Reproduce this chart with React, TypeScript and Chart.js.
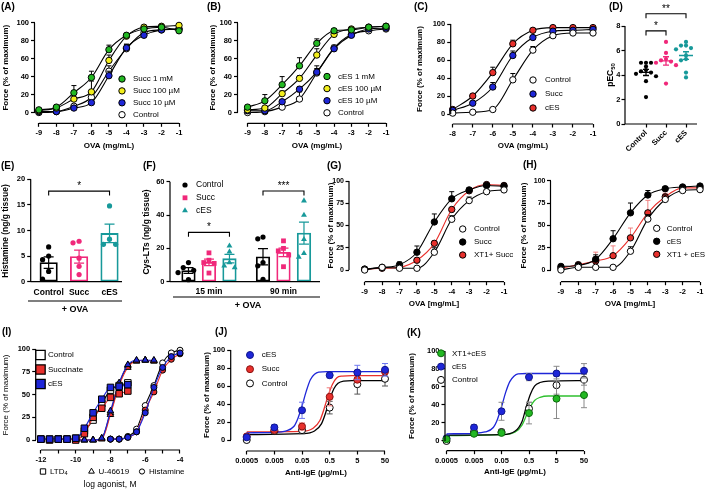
import React, { useEffect, useRef } from "react";
import { Chart, registerables } from "chart.js";

Chart.register(...registerables);

// ===================== DATA =====================
// (A) OVA dose-response with succinate pre-treatment (log mg/mL)
const OVA_9 = [-9, -8, -7, -6, -5, -4, -3, -2, -1];
const A_SUCC_1MM = [3, 6, 22, 39, 70, 86, 93, 95, 91];
const A_SUCC_1MM_SEM = [1, 1, 8, 7, 5, 2, 1, 1, 1];
const A_SUCC_100UM = [2, 5, 15, 23, 58, 85, 95, 96, 97];
const A_SUCC_100UM_SEM = [1, 1, 2, 12, 6, 2, 1, 1, 1];
const A_SUCC_10UM = [1, 1, 5, 11, 41, 72, 86, 92, 93];
const A_SUCC_10UM_SEM = [1, 1, 1, 2, 5, 4, 2, 1, 1];
const A_CONTROL = [0, 1, 7, 17, 46, 71, 89, 92, 93];
const A_CONTROL_SEM = [1, 1, 2, 3, 6, 5, 2, 1, 1];

// (B) cES
const B_CES_1MM = [6, 13, 31, 52, 77, 91, 92, 95, 96];
const B_CES_1MM_SEM = [1, 7, 9, 9, 5, 2, 1, 1, 1];
const B_CES_100UM = [3, 5, 21, 38, 64, 87, 93, 95, 96];
const B_CES_100UM_SEM = [1, 1, 3, 3, 7, 2, 1, 1, 1];
const B_CES_10UM = [2, 2, 12, 26, 45, 71, 86, 93, 94];
const B_CES_10UM_SEM = [1, 1, 2, 3, 4, 2, 2, 1, 1];
const B_CONTROL = [0, 1, 6, 15, 44, 72, 87, 91, 93];
const B_CONTROL_SEM = [1, 1, 2, 8, 8, 3, 3, 1, 1];

// (C)
const OVA_8 = [-8, -7, -6, -5, -4, -3, -2, -1];
const C_CONTROL = [1, 2, 5, 38, 71, 87, 90, 90];
const C_CONTROL_SEM = [1, 1, 1, 7, 4, 2, 1, 1];
const C_SUCC = [4, 12, 30, 65, 85, 92, 93, 94];
const C_SUCC_SEM = [1, 2, 5, 5, 2, 1, 1, 1];
const C_CES = [5, 20, 46, 78, 93, 96, 96, 96];
const C_CES_SEM = [1, 2, 6, 4, 2, 1, 1, 1];

// (D) pEC50
const D_GROUPS = ["Control", "Succ", "cES"];
const D_CONTROL = [5.0, 5.0, 5.0, 4.7, 4.4, 4.3, 4.2, 4.1, 3.9, 3.5, 2.2];
const D_SUCC = [6.7, 5.8, 5.3, 5.2, 5.1, 5.0, 4.8, 3.3];
const D_CES = [6.7, 6.4, 6.4, 6.2, 6.1, 5.6, 5.3, 5.2, 4.2, 3.8];

// (E) Histamine (ng/g tissue)
const E_GROUPS = ["Control", "Succ", "cES"];
const E_CONTROL = [6.8, 5.0, 4.3, 2.0, 0.5];
const E_SUCC = [7.9, 7.6, 4.6, 3.0, 1.4];
const E_CES = [14.8, 8.3, 7.3, 7.3];

// (F) Cys-LTs (ng/g tissue)
const F_TIMES = ["15 min", "90 min"];
const F_CONTROL_15 = [11.5, 8.5, 6.8, 5.5, 1.2];
const F_SUCC_15 = [17.3, 12.9, 11.5, 11, 5.2];
const F_CES_15 = [21.5, 18, 11.5, 9.5, 8.5];
const F_CONTROL_90 = [26.8, 25.7, 11.5, 9.5, 1.4];
const F_SUCC_90 = [24.5, 20, 18.5, 16, 9];
const F_CES_90 = [48.6, 40, 25.4, 17, 14.8];

// (G)
const G_CONTROL = [0, 3, 2, 2, 20, 57, 78, 88, 90];
const G_CONTROL_SEM = [1, 1, 1, 1, 5, 4, 4, 2, 1];
const G_SUCC = [1, 3, 6, 20, 54, 80, 90, 95, 94];
const G_SUCC_SEM = [1, 1, 3, 7, 9, 8, 2, 1, 1];
const G_XT1_SUCC = [1, 2, 3, 11, 30, 68, 89, 96, 95];
const G_XT1_SUCC_SEM = [0, 0, 1, 2, 3, 2, 1, 1, 1];

// (H)
const H_CONTROL = [0, 3, 3, 3, 21, 57, 79, 89, 90];
const H_CONTROL_SEM = [1, 1, 1, 1, 5, 5, 5, 2, 1];
const H_CES = [4, 5, 12, 35, 64, 84, 91, 93, 94];
const H_CES_SEM = [1, 1, 5, 9, 11, 5, 2, 1, 1];
const H_XT1_CES = [2, 6, 10, 16, 36, 64, 82, 92, 92];
const H_XT1_CES_SEM = [1, 2, 10, 11, 11, 14, 4, 1, 1];

// (I) log agonist, M
const I_LTD4_X = [-12, -11.5, -11, -10.5, -10, -9.5, -9, -8.5, -8, -7.5, -7];
const I_LTD4_CONTROL = [1, 1, 1, 1, 2, 10, 22, 40, 55, 60, 63];
const I_LTD4_SUCC = [1, 0, 1, 1, 0, 7, 25, 35, 47, 51, 54];
const I_LTD4_CES = [1, 1, 1, 1, 2, 13, 30, 45, 58, 59, 61];
const I_U46619_X = [-10, -9.5, -9, -8.5, -8, -7.5, -7, -6.5, -6, -5.5];
const I_U46619_CONTROL = [0, 0, 0, 2, 30, 62, 82, 87, 88, 87];
const I_U46619_SUCC = [0, 0, 0, 1, 28, 60, 80, 87, 88, 87];
const I_U46619_CES = [0, 0, 0, 2, 32, 63, 83, 88, 88, 88];
const I_HIST_X = [-8, -7.5, -7, -6.5, -6, -5.5, -5, -4.5, -4];
const I_HIST_CONTROL = [1, 1, 4, 12, 38, 60, 85, 96, 99];
const I_HIST_SUCC = [1, 1, 3, 9, 33, 53, 77, 89, 95];
const I_HIST_CES = [1, 1, 3, 9, 30, 58, 80, 92, 96];

// (J) Anti-IgE (µg/mL)
const IGE_CONC = [0.0005, 0.005, 0.05, 0.5, 5, 50];
const J_CES = [3, 14, 33, 72, 75, 78];
const J_CES_SEM = [2, 3, 9, 3, 8, 7];
const J_SUCC = [4, 11, 15, 48, 67, 76];
const J_SUCC_SEM = [1, 1, 4, 10, 3, 3];
const J_CONTROL = [0, 10, 11, 36, 62, 68];
const J_CONTROL_SEM = [1, 3, 4, 7, 11, 8];
// fitted curves: [log10 conc, %]
const J_CES_CURVE = [[-3.3, 8], [-2.3, 8.5], [-1.9, 10], [-1.6, 15], [-1.45, 24], [-1.3, 38], [-1.15, 54], [-1.0, 67], [-0.85, 73], [-0.7, 75.5], [-0.4, 76], [1.7, 76]];
const J_SUCC_CURVE = [[-3.3, 9], [-1.3, 9.5], [-0.9, 13], [-0.65, 22], [-0.5, 35], [-0.35, 50], [-0.2, 62], [-0.05, 69], [0.15, 71], [0.5, 71.5], [1.7, 71.5]];
const J_CONTROL_CURVE = [[-3.3, 6], [-1.3, 7], [-0.85, 10], [-0.6, 18], [-0.45, 30], [-0.3, 45], [-0.15, 57], [0, 63], [0.2, 65.5], [0.5, 66], [1.7, 66]];

// (K)
const K_XT1_CES = [2, 8, 9, 31, 47, 51];
const K_XT1_CES_SEM = [1, 2, 2, 12, 22, 14];
const K_CES = [3, 15, 33, 71, 75, 78];
const K_CES_SEM = [2, 3, 10, 4, 8, 8];
const K_CONTROL = [0, 10, 10, 36, 62, 68];
const K_CONTROL_SEM = [1, 2, 3, 7, 10, 6];
const K_CES_CURVE = [[-3.3, 8], [-2.3, 8.5], [-1.9, 10], [-1.6, 15], [-1.45, 24], [-1.3, 38], [-1.15, 54], [-1.0, 66], [-0.85, 72], [-0.7, 74.5], [-0.4, 75], [1.7, 75]];
const K_CONTROL_CURVE = [[-3.3, 6.5], [-1.3, 7], [-0.8, 11], [-0.55, 22], [-0.4, 38], [-0.25, 52], [-0.1, 61], [0.1, 65], [0.4, 66.5], [1.7, 67]];
const K_XT1_CES_CURVE = [[-3.3, 6], [-1.3, 7], [-0.8, 10], [-0.55, 18], [-0.4, 28], [-0.25, 38], [-0.1, 45], [0.1, 48.5], [0.4, 50], [1.7, 50]];

// ===================== STYLE =====================
const W = 709;
const H = 490;
const FONT = "'Liberation Sans', Arial, Helvetica, sans-serif";
const BLACK = "#000000";
const WHITE = "#ffffff";
const GREEN = "#22b822";
const YELLOW = "#f2ee1c";
const BLUE = "#1e26d8";
const RED = "#e8302c";
const PINK = "#f0287a";
const TEAL = "#17999a";
const GREY = "#8a8a8a";

Chart.defaults.font.family = FONT;

// ===================== HELPERS =====================
type Area = { l: number; t: number; r: number; b: number };
type Seg = { t: string; sub?: boolean };
type Txt = { t: string | Seg[]; x: number; y: number; size?: number; bold?: boolean; rot?: number; align?: "left" | "center" | "right" };
type Mark = { style: string; x: number; y: number; r: number; fill: string; stroke?: string; lw?: number };

const mean = (a: number[]) => a.reduce((s, v) => s + v, 0) / a.length;
const sem = (a: number[]) => {
  const m = mean(a);
  return Math.sqrt(a.reduce((s, v) => s + (v - m) * (v - m), 0) / (a.length - 1) / a.length);
};

function swarm(vals: number[], delta: number, step: number): number[] {
  const idx = vals.map((_, i) => i).sort((a, b) => vals[b] - vals[a]);
  const out = new Array(vals.length).fill(0);
  const pat = [0, -1, 1, -2, 2, -3, 3];
  let k = 0;
  let prev = Infinity;
  for (const i of idx) {
    k = prev - vals[i] <= delta ? k + 1 : 0;
    out[i] = pat[k % pat.length] * step;
    prev = vals[i];
  }
  return out;
}

function dose(label: string, xs: number[], ys: number[], err: number[] | null, fill: string, o: any = {}) {
  return {
    type: "line",
    label,
    data: xs.map((x, i) => ({ x, y: ys[i] })),
    errUp: err,
    errDown: o.down ? err : null,
    errColor: o.errColor ?? BLACK,
    errCap: o.cap ?? 2.5,
    showLine: o.line !== false,
    borderColor: o.lineColor ?? BLACK,
    borderWidth: o.lw ?? 1.1,
    cubicInterpolationMode: "monotone",
    pointStyle: o.style ?? "circle",
    pointRadius: o.r ?? 3.2,
    pointBackgroundColor: fill,
    pointBorderColor: o.stroke ?? BLACK,
    pointBorderWidth: o.bw ?? 1,
    clip: false,
    fill: false,
  };
}

function curve(label: string, xy: number[][], color: string) {
  return {
    type: "line",
    label,
    data: xy.map((p) => ({ x: p[0], y: p[1] })),
    borderColor: color,
    borderWidth: 1.3,
    cubicInterpolationMode: "monotone",
    pointRadius: 0,
    clip: false,
    fill: false,
  };
}

function dots(label: string, xs: number[], ys: number[], fill: string, style = "circle", r = 2.5) {
  return {
    type: "scatter",
    label,
    data: xs.map((x, i) => ({ x, y: ys[i] })),
    pointStyle: style,
    pointRadius: r,
    pointBackgroundColor: fill,
    pointBorderColor: fill,
    pointBorderWidth: 0,
    showLine: false,
    clip: false,
  };
}

function legendFrom(x: number, y: number, dy: number, tx: number, size: number, ds: any[]) {
  const marks: Mark[] = [];
  const texts: Txt[] = [];
  ds.forEach((d, i) => {
    marks.push({ style: d.pointStyle, x, y: y + i * dy, r: d.pointRadius, fill: d.pointBackgroundColor, stroke: d.pointBorderColor, lw: d.pointBorderWidth });
    texts.push({ t: d.label, x: tx, y: y + i * dy, size, bold: false, align: "left" });
  });
  return { marks, texts };
}

function drawMarker(ctx: CanvasRenderingContext2D, m: Mark) {
  const { x, y, r } = m;
  ctx.beginPath();
  if (m.style === "rect") {
    const s = r * Math.SQRT1_2;
    ctx.rect(x - s, y - s, 2 * s, 2 * s);
  } else if (m.style === "triangle") {
    let a = 0;
    ctx.moveTo(x + Math.sin(a) * r, y - Math.cos(a) * r);
    a += (2 * Math.PI) / 3;
    ctx.lineTo(x + Math.sin(a) * r, y - Math.cos(a) * r);
    a += (2 * Math.PI) / 3;
    ctx.lineTo(x + Math.sin(a) * r, y - Math.cos(a) * r);
    ctx.closePath();
  } else {
    ctx.arc(x, y, r, 0, Math.PI * 2);
  }
  ctx.fillStyle = m.fill;
  ctx.fill();
  if ((m.lw ?? 1) > 0) {
    ctx.strokeStyle = m.stroke ?? BLACK;
    ctx.lineWidth = m.lw ?? 1;
    ctx.stroke();
  }
}

function drawText(ctx: CanvasRenderingContext2D, s: Txt) {
  const segs: Seg[] = typeof s.t === "string" ? [{ t: s.t }] : s.t;
  const size = s.size ?? 8;
  const weight = s.bold === false ? "normal" : "bold";
  const fontOf = (g: Seg) => `${weight} ${g.sub ? size * 0.7 : size}px ${FONT}`;
  ctx.save();
  ctx.translate(s.x, s.y);
  if (s.rot) ctx.rotate((s.rot * Math.PI) / 180);
  ctx.fillStyle = BLACK;
  ctx.textBaseline = "middle";
  ctx.textAlign = "left";
  let total = 0;
  for (const g of segs) {
    ctx.font = fontOf(g);
    total += ctx.measureText(g.t).width;
  }
  let x = s.align === "left" ? 0 : s.align === "right" ? -total : -total / 2;
  for (const g of segs) {
    ctx.font = fontOf(g);
    ctx.fillText(g.t, x, g.sub ? size * 0.3 : 0);
    x += ctx.measureText(g.t).width;
  }
  ctx.restore();
}

function drawErr(chart: any, index: number) {
  const ds = chart.data.datasets[index];
  if (!ds.errUp) return;
  const meta = chart.getDatasetMeta(index);
  const ys = chart.scales.y;
  const ctx = chart.ctx;
  ctx.save();
  ctx.lineWidth = ds.errWidth ?? 1;
  meta.data.forEach((el: any, j: number) => {
    const v = ds.data[j].y;
    const up = ds.errUp[j] ?? 0;
    const dn = ds.errDown ? ds.errDown[j] ?? 0 : 0;
    if (up <= 0 && dn <= 0) return;
    const x = el.x;
    const yTop = ys.getPixelForValue(v + up);
    const yBot = ys.getPixelForValue(v - dn);
    const cap = ds.errCap ?? 2.5;
    ctx.strokeStyle = Array.isArray(ds.errColor) ? ds.errColor[j] : ds.errColor ?? BLACK;
    ctx.beginPath();
    ctx.moveTo(x, yBot);
    ctx.lineTo(x, yTop);
    if (up > 0) {
      ctx.moveTo(x - cap, yTop);
      ctx.lineTo(x + cap, yTop);
    }
    if (dn > 0) {
      ctx.moveTo(x - cap, yBot);
      ctx.lineTo(x + cap, yBot);
    }
    ctx.stroke();
  });
  ctx.restore();
}

type Panel = {
  area: Area;
  x: { min: number; max: number; ticks: number[]; labels: string[]; rot?: number; tickMarks?: boolean; pad?: number; font?: any };
  y: { min: number; max: number; ticks: number[]; size?: number; pad?: number };
  datasets: any[];
  axes: { x: [number, number]; y: [number, number] };
  texts: Txt[];
  marks?: Mark[];
  brackets?: { x1: number; x2: number; y: number; text: string; tip?: number }[];
  meanSem?: { x: number; vals: number[]; color: string; half: number; cap: number }[];
  lines?: number[][];
};

function decoPlugin(p: Panel) {
  return {
    id: "deco",
    beforeDatasetDraw(chart: any, args: any) {
      const ds = chart.data.datasets[args.index];
      if (ds.type !== "bar") drawErr(chart, args.index);
    },
    afterDatasetDraw(chart: any, args: any) {
      const ds = chart.data.datasets[args.index];
      if (ds.type === "bar") drawErr(chart, args.index);
    },
    afterDatasetsDraw(chart: any) {
      const ctx = chart.ctx as CanvasRenderingContext2D;
      const xs = chart.scales.x;
      const ys = chart.scales.y;
      const ca = chart.chartArea;
      ctx.save();
      ctx.strokeStyle = BLACK;
      ctx.lineWidth = 1.2;
      ctx.beginPath();
      ctx.moveTo(ca.left, ys.getPixelForValue(p.axes.y[1]));
      ctx.lineTo(ca.left, ys.getPixelForValue(p.axes.y[0]));
      ctx.moveTo(xs.getPixelForValue(p.axes.x[0]), ca.bottom);
      ctx.lineTo(xs.getPixelForValue(p.axes.x[1]), ca.bottom);
      ctx.stroke();

      for (const m of p.meanSem ?? []) {
        const mu = mean(m.vals);
        const se = sem(m.vals);
        const cx = xs.getPixelForValue(m.x);
        const ym = ys.getPixelForValue(mu);
        const y1 = ys.getPixelForValue(mu + se);
        const y0 = ys.getPixelForValue(mu - se);
        ctx.strokeStyle = m.color;
        ctx.lineWidth = 1.3;
        ctx.beginPath();
        ctx.moveTo(cx - m.half, ym);
        ctx.lineTo(cx + m.half, ym);
        ctx.moveTo(cx, y0);
        ctx.lineTo(cx, y1);
        ctx.moveTo(cx - m.cap, y0);
        ctx.lineTo(cx + m.cap, y0);
        ctx.moveTo(cx - m.cap, y1);
        ctx.lineTo(cx + m.cap, y1);
        ctx.stroke();
      }

      for (const b of p.brackets ?? []) {
        const x1 = xs.getPixelForValue(b.x1);
        const x2 = xs.getPixelForValue(b.x2);
        const yb = ys.getPixelForValue(b.y);
        const tip = b.tip ?? 4.5;
        ctx.strokeStyle = BLACK;
        ctx.lineWidth = 1.1;
        ctx.beginPath();
        ctx.moveTo(x1, yb + tip);
        ctx.lineTo(x1, yb);
        ctx.lineTo(x2, yb);
        ctx.lineTo(x2, yb + tip);
        ctx.stroke();
        drawText(ctx, { t: b.text, x: (x1 + x2) / 2, y: yb - 5, size: 10, bold: false });
      }

      for (const l of p.lines ?? []) {
        ctx.strokeStyle = BLACK;
        ctx.lineWidth = 1.1;
        ctx.beginPath();
        ctx.moveTo(l[0], l[1]);
        ctx.lineTo(l[2], l[3]);
        ctx.stroke();
      }
      for (const m of p.marks ?? []) drawMarker(ctx, m);
      for (const t of p.texts) drawText(ctx, t);
      ctx.restore();
    },
  };
}

function buildConfig(p: Panel): any {
  const tickFont = { family: FONT, size: 7.5, weight: "bold" };
  const yFont = { family: FONT, size: p.y.size ?? 7.5, weight: "bold" };
  return {
    type: "scatter",
    data: { datasets: p.datasets },
    options: {
      responsive: false,
      animation: false,
      devicePixelRatio: 1,
      events: [],
      layout: { padding: { left: 0, top: p.area.t, right: W - p.area.r, bottom: 0 } },
      plugins: { legend: { display: false }, tooltip: { enabled: false }, title: { display: false } },
      scales: {
        x: {
          type: "linear",
          min: p.x.min,
          max: p.x.max,
          bounds: "data",
          offset: false,
          afterBuildTicks: (s: any) => {
            s.ticks = p.x.ticks.map((v) => ({ value: v }));
          },
          afterFit: (s: any) => {
            s.height = H - p.area.b;
          },
          ticks: {
            autoSkip: false,
            maxRotation: p.x.rot ?? 0,
            minRotation: p.x.rot ?? 0,
            padding: p.x.pad ?? 2,
            color: BLACK,
            font: p.x.font ?? tickFont,
            callback: (_v: any, i: number) => p.x.labels[i] ?? "",
          },
          grid: { display: p.x.tickMarks !== false, drawOnChartArea: false, drawTicks: true, tickLength: 3.5, tickWidth: 1.2, tickColor: BLACK, offset: false },
          border: { display: false },
        },
        y: {
          type: "linear",
          min: p.y.min,
          max: p.y.max,
          bounds: "data",
          afterBuildTicks: (s: any) => {
            s.ticks = p.y.ticks.map((v) => ({ value: v }));
          },
          afterFit: (s: any) => {
            s.width = p.area.l;
          },
          ticks: { autoSkip: false, padding: p.y.pad ?? 2, color: BLACK, font: yFont, callback: (v: any) => String(v) },
          grid: { display: true, drawOnChartArea: false, drawTicks: true, tickLength: 3.5, tickWidth: 1.2, tickColor: BLACK },
          border: { display: false },
        },
      },
    },
    plugins: [decoPlugin(p)],
  };
}

// ===================== PANELS =====================
function forceTitle(x: number, y: number, bold = true): Txt {
  return { t: "Force (% of maximum)", x, y, size: 8, rot: -90, bold };
}
function label(t: string, x: number, y: number): Txt {
  return { t, x, y, size: 10, align: "left" };
}

function buildPanels(): Panel[] {
  const Y100 = [0, 20, 40, 60, 80, 100];
  const Y25 = [0, 25, 50, 75, 100];
  const ovaLabels9 = OVA_9.map(String);

  // ---- A ----
  const aDs = [
    dose("Succ 1 mM", OVA_9, A_SUCC_1MM, A_SUCC_1MM_SEM, GREEN),
    dose("Succ 100 µM", OVA_9, A_SUCC_100UM, A_SUCC_100UM_SEM, YELLOW),
    dose("Succ 10 µM", OVA_9, A_SUCC_10UM, A_SUCC_10UM_SEM, BLUE),
    dose("Control", OVA_9, A_CONTROL, A_CONTROL_SEM, WHITE),
  ];
  const aLeg = legendFrom(122, 79, 11.9, 133, 8, aDs);
  const A: Panel = {
    area: { l: 34.5, t: 22.7, r: 179, b: 123.3 },
    x: { min: -9.25, max: -1, ticks: OVA_9, labels: ovaLabels9 },
    y: { min: -12, max: 100, ticks: Y100 },
    datasets: aDs,
    axes: { x: [-9, -1], y: [0, 100] },
    marks: aLeg.marks,
    texts: [label("(A)", 1, 7), forceTitle(5.5, 67.7), { t: "OVA (mg/mL)", x: 109, y: 146 }, ...aLeg.texts],
  };

  // ---- B ----
  const bDs = [
    dose("cES 1 mM", OVA_9, B_CES_1MM, B_CES_1MM_SEM, GREEN),
    dose("cES 100 µM", OVA_9, B_CES_100UM, B_CES_100UM_SEM, YELLOW),
    dose("cES 10 µM", OVA_9, B_CES_10UM, B_CES_10UM_SEM, BLUE),
    dose("Control", OVA_9, B_CONTROL, B_CONTROL_SEM, WHITE),
  ];
  const bLeg = legendFrom(327, 76.5, 12.1, 338, 8, bDs);
  const B: Panel = {
    area: { l: 237.5, t: 22.7, r: 386, b: 123.3 },
    x: { min: -9.58, max: -1, ticks: OVA_9, labels: ovaLabels9 },
    y: { min: -12, max: 100, ticks: Y100 },
    datasets: bDs,
    axes: { x: [-9, -1], y: [0, 100] },
    marks: bLeg.marks,
    texts: [label("(B)", 207, 7), forceTitle(212.5, 67.7), { t: "OVA (mg/mL)", x: 317, y: 146 }, ...bLeg.texts],
  };

  // ---- C ----
  const cDs = [
    dose("Control", OVA_8, C_CONTROL, C_CONTROL_SEM, WHITE),
    dose("Succ", OVA_8, C_SUCC, C_SUCC_SEM, BLUE),
    dose("cES", OVA_8, C_CES, C_CES_SEM, RED),
  ];
  const cLeg = legendFrom(533, 80, 14, 545, 8, cDs);
  const C: Panel = {
    area: { l: 450.7, t: 24, r: 593, b: 124 },
    x: { min: -8.1, max: -1, ticks: OVA_8, labels: OVA_8.map(String) },
    y: { min: -11.1, max: 100, ticks: Y100 },
    datasets: cDs,
    axes: { x: [-8, -1], y: [0, 100] },
    marks: cLeg.marks,
    texts: [label("(C)", 414, 7), forceTitle(420, 69), { t: "OVA (mg/mL)", x: 523, y: 146 }, ...cLeg.texts],
  };

  // ---- D ----
  const dGroups = [D_CONTROL, D_SUCC, D_CES];
  const dColors = [BLACK, PINK, TEAL];
  const D: Panel = {
    area: { l: 625, t: 26, r: 697, b: 124 },
    x: { min: -1.05, max: 2.55, ticks: [0, 1, 2], labels: D_GROUPS, rot: 45, pad: 1 },
    y: { min: 0, max: 8, ticks: [0, 2, 4, 6, 8], pad: 1 },
    datasets: dGroups.map((g, k) => {
      const off = swarm(g, 0.25, 0.25);
      return dots(D_GROUPS[k], g.map((_, i) => k + off[i]), g, dColors[k], "circle", 2.1);
    }),
    axes: { x: [-1.05, 2.55], y: [0, 8] },
    meanSem: dGroups.map((g, k) => ({ x: k, vals: g, color: dColors[k], half: 7, cap: 3 })),
    brackets: [
      { x1: 0, x2: 1, y: 7.6, text: "*" },
      { x1: 0, x2: 2, y: 9.0, text: "**" },
    ],
    texts: [label("(D)", 609, 7), { t: [{ t: "pEC" }, { t: "50", sub: true }], x: 611, y: 75, size: 8.5, rot: -90 }],
  };

  // ---- E ----
  const eGroups = [E_CONTROL, E_SUCC, E_CES];
  const eColors = [BLACK, PINK, TEAL];
  const eBars = {
    type: "bar",
    label: "mean",
    data: eGroups.map((g, k) => ({ x: k, y: mean(g) })),
    backgroundColor: WHITE,
    borderColor: eColors,
    borderWidth: 1.8,
    borderSkipped: false,
    barThickness: 17.5,
    grouped: false,
    errUp: eGroups.map(sem),
    errDown: eGroups.map(sem),
    errColor: eColors,
    errCap: 5,
    errWidth: 1.2,
  };
  const E: Panel = {
    area: { l: 30.7, t: 179.3, r: 122, b: 281.7 },
    x: { min: -0.59, max: 2.41, ticks: [0, 1, 2], labels: E_GROUPS, tickMarks: false, pad: 2, font: { family: FONT, size: 8.5, weight: "bold" } },
    y: { min: 0, max: 20, ticks: [0, 5, 10, 15, 20] },
    datasets: [
      ...eGroups.map((g, k) => {
        const off = swarm(g, 1.5, 0.2);
        return dots(E_GROUPS[k], g.map((_, i) => k + off[i]), g, eColors[k], "circle", 2.6);
      }),
      eBars,
    ],
    axes: { x: [-0.59, 2.41], y: [0, 20] },
    brackets: [{ x1: 0, x2: 2, y: 17.7, text: "*" }],
    lines: [[28, 301, 122, 301]],
    texts: [
      label("(E)", 1, 166),
      { t: "Histamine (ng/g tissue)", x: 5.5, y: 231, size: 8.5, rot: -90 },
      { t: "+ OVA", x: 75, y: 310, size: 9 },
    ],
  };

  // ---- F ----
  const fSets = [
    [F_CONTROL_15, F_CONTROL_90],
    [F_SUCC_15, F_SUCC_90],
    [F_CES_15, F_CES_90],
  ];
  const fColors = [BLACK, PINK, TEAL];
  const fStyles = ["circle", "rect", "triangle"];
  const fRadius = [2.6, 3.4, 3.4];
  const fNames = ["Control", "Succ", "cES"];
  const OFF = 0.275;
  const fBars = fSets.map((sets, k) => ({
    type: "bar",
    label: fNames[k] + " mean",
    data: sets.map((g, t) => ({ x: t + (k - 1) * OFF, y: mean(g) })),
    backgroundColor: WHITE,
    borderColor: fColors[k],
    borderWidth: 1.8,
    borderSkipped: false,
    barThickness: 13.6,
    grouped: false,
    errUp: sets.map(sem),
    errDown: sets.map(sem),
    errColor: fColors[k],
    errCap: 5,
    errWidth: 1.2,
  }));
  const fDots = fSets.map((sets, k) => {
    const xs: number[] = [];
    const ys: number[] = [];
    sets.forEach((g, t) => {
      const off = swarm(g, 3, 0.07);
      g.forEach((v, i) => {
        xs.push(t + (k - 1) * OFF + off[i]);
        ys.push(v);
      });
    });
    return dots(fNames[k], xs, ys, fColors[k], fStyles[k], fRadius[k]);
  });
  const fLeg = legendFrom(185, 185, 12.8, 196, 8.5, fDots);
  const F: Panel = {
    area: { l: 170, t: 181.7, r: 320, b: 281.7 },
    x: { min: -0.523, max: 1.49, ticks: [0, 1], labels: F_TIMES, tickMarks: false, pad: 1.5, font: { family: FONT, size: 8.5, weight: "bold" } },
    y: { min: 0, max: 60, ticks: [0, 20, 40, 60] },
    datasets: [...fDots, ...fBars],
    axes: { x: [-0.523, 1.49], y: [0, 60] },
    brackets: [
      { x1: -OFF, x2: OFF, y: 29.6, text: "*" },
      { x1: 1 - OFF, x2: 1 + OFF, y: 54.4, text: "***" },
    ],
    lines: [[173, 297, 320, 297]],
    marks: fLeg.marks,
    texts: [
      label("(F)", 143, 166),
      { t: "Cys-LTs (ng/g tissue)", x: 146.7, y: 232, size: 8.5, rot: -90 },
      { t: "+ OVA", x: 248, y: 305.7, size: 9 },
      ...fLeg.texts,
    ],
  };

  // ---- G ----
  const gDs = [
    dose("Control", OVA_9, G_CONTROL, G_CONTROL_SEM, WHITE),
    dose("Succ", OVA_9, G_SUCC, G_SUCC_SEM, BLACK),
    dose("XT1+ Succ", OVA_9, G_XT1_SUCC, G_XT1_SUCC_SEM, RED, { lineColor: RED, errColor: RED }),
  ];
  const gLeg = legendFrom(462.7, 229, 13, 474, 8, gDs);
  const G: Panel = {
    area: { l: 349, t: 181, r: 504, b: 281.7 },
    x: { min: -9.9, max: -1, ticks: OVA_9, labels: ovaLabels9 },
    y: { min: -13.1, max: 100, ticks: Y25, size: 7, pad: 1.5 },
    datasets: gDs,
    axes: { x: [-9, -1], y: [0, 100] },
    marks: gLeg.marks,
    texts: [label("(G)", 327, 166), forceTitle(330.5, 225.5), { t: "OVA [mg/mL]", x: 434, y: 303.3 }, ...gLeg.texts],
  };

  // ---- H ----
  const hDs = [
    dose("Control", OVA_9, H_CONTROL, H_CONTROL_SEM, WHITE),
    dose("cES", OVA_9, H_CES, H_CES_SEM, BLACK),
    dose("XT1 + cES", OVA_9, H_XT1_CES, H_XT1_CES_SEM, RED, { lineColor: RED, errColor: "#f08080" }),
  ];
  const hLeg = legendFrom(656.7, 228.3, 13, 666.7, 8, hDs);
  const HP: Panel = {
    area: { l: 550.5, t: 180.7, r: 700, b: 281.7 },
    x: { min: -9.6, max: -1, ticks: OVA_9, labels: ovaLabels9 },
    y: { min: -13.1, max: 100, ticks: Y25, size: 7, pad: 1.5 },
    datasets: hDs,
    axes: { x: [-9, -1], y: [0, 100] },
    marks: hLeg.marks,
    texts: [label("(H)", 523, 165), forceTitle(523.5, 225.5), { t: "OVA [mg/mL]", x: 630, y: 303.3 }, ...hLeg.texts],
  };

  // ---- I ----
  const iOpts = (col: string, style: string, r: number) => ({ lineColor: col === WHITE ? BLACK : col, style, r });
  const iDs = [
    dose("LTD4 cES", I_LTD4_X, I_LTD4_CES, null, BLUE, iOpts(BLUE, "rect", 4.6)),
    dose("LTD4 Succinate", I_LTD4_X, I_LTD4_SUCC, null, RED, iOpts(RED, "rect", 4.6)),
    dose("LTD4 Control", I_LTD4_X, I_LTD4_CONTROL, null, WHITE, iOpts(WHITE, "rect", 4.6)),
    dose("U-46619 cES", I_U46619_X, I_U46619_CES, null, BLUE, iOpts(BLUE, "triangle", 3.8)),
    dose("U-46619 Succinate", I_U46619_X, I_U46619_SUCC, null, RED, iOpts(RED, "triangle", 3.8)),
    dose("U-46619 Control", I_U46619_X, I_U46619_CONTROL, null, WHITE, iOpts(WHITE, "triangle", 3.8)),
    dose("Histamine cES", I_HIST_X, I_HIST_CES, null, BLUE, iOpts(BLUE, "circle", 3)),
    dose("Histamine Succinate", I_HIST_X, I_HIST_SUCC, null, RED, iOpts(RED, "circle", 3)),
    dose("Histamine Control", I_HIST_X, I_HIST_CONTROL, null, WHITE, iOpts(WHITE, "circle", 3)),
  ];
  const iTicks = [-12, -11, -10, -9, -8, -7, -6, -5, -4];
  const I: Panel = {
    area: { l: 35.7, t: 349.3, r: 180, b: 450 },
    x: { min: -12.3, max: -4, ticks: iTicks, labels: iTicks.map((v) => (v % 2 === 0 ? String(v) : "")) },
    y: { min: -11, max: 100, ticks: Y25 },
    datasets: iDs,
    axes: { x: [-12, -4], y: [0, 100] },
    marks: [
      { style: "rect", x: 40.5, y: 355, r: 6.6, fill: WHITE, stroke: BLACK, lw: 1.3 },
      { style: "rect", x: 40.5, y: 369.5, r: 6.6, fill: RED, stroke: BLACK, lw: 1.3 },
      { style: "rect", x: 40.5, y: 384, r: 6.6, fill: BLUE, stroke: BLACK, lw: 1.3 },
      { style: "rect", x: 43, y: 471.5, r: 3.8, fill: WHITE, stroke: BLACK, lw: 1 },
      { style: "triangle", x: 91.5, y: 471.5, r: 3.3, fill: WHITE, stroke: BLACK, lw: 1 },
      { style: "circle", x: 142, y: 471.5, r: 2.6, fill: WHITE, stroke: BLACK, lw: 1 },
    ],
    texts: [
      label("(I)", 2, 332),
      forceTitle(5.7, 395, false),
      { t: "Control", x: 48, y: 355, size: 8, bold: false, align: "left" },
      { t: "Succinate", x: 48, y: 369.5, size: 8, bold: false, align: "left" },
      { t: "cES", x: 48, y: 384, size: 8, bold: false, align: "left" },
      { t: [{ t: "LTD" }, { t: "4", sub: true }], x: 50, y: 471.5, size: 8, bold: false, align: "left" },
      { t: "U-46619", x: 98.5, y: 471.5, size: 8, bold: false, align: "left" },
      { t: "Histamine", x: 149, y: 471.5, size: 8, bold: false, align: "left" },
      { t: "log agonist, M", x: 110, y: 484.3, size: 8.5, bold: false },
    ],
  };

  // ---- J ----
  const igeX = IGE_CONC.map((c) => Math.log10(c));
  const igeLabels = IGE_CONC.map(String);
  const jPts = [
    dose("cES", igeX, J_CES, J_CES_SEM, BLUE, { line: false, down: true, errColor: "#6f78f0", cap: 3, r: 3.5, stroke: "#10168a" }),
    dose("Succ", igeX, J_SUCC, J_SUCC_SEM, RED, { line: false, down: true, errColor: "#f07a7a", cap: 3, r: 3.5, stroke: "#8a1210" }),
    dose("Control", igeX, J_CONTROL, J_CONTROL_SEM, WHITE, { line: false, down: true, errColor: "#555555", cap: 3, r: 3.5 }),
  ];
  const jLeg = legendFrom(250, 355, 14.2, 261.7, 8, jPts);
  const J: Panel = {
    area: { l: 230.7, t: 350, r: 385, b: 451 },
    x: { min: -3.88, max: Math.log10(50), ticks: igeX, labels: igeLabels },
    y: { min: -12.2, max: 100, ticks: Y100 },
    datasets: [...jPts, curve("cES fit", J_CES_CURVE, BLUE), curve("Succ fit", J_SUCC_CURVE, RED), curve("Control fit", J_CONTROL_CURVE, BLACK)],
    axes: { x: [igeX[0], igeX[igeX.length - 1]], y: [0, 100] },
    marks: jLeg.marks,
    texts: [label("(J)", 215, 332), forceTitle(206.7, 395), { t: "Anti-IgE (µg/mL)", x: 316, y: 472.3 }, ...jLeg.texts],
  };

  // ---- K ----
  const kPts = [
    dose("XT1+cES", igeX, K_XT1_CES, K_XT1_CES_SEM, GREEN, { line: false, down: true, errColor: GREY, cap: 3, r: 3.5, stroke: "#0d6a0d" }),
    dose("cES", igeX, K_CES, K_CES_SEM, BLUE, { line: false, down: true, errColor: GREY, cap: 3, r: 3.5, stroke: "#10168a" }),
    dose("Control", igeX, K_CONTROL, K_CONTROL_SEM, WHITE, { line: false, down: true, errColor: GREY, cap: 3, r: 3.5 }),
  ];
  const kLeg = legendFrom(441, 353.3, 13.3, 452, 8, kPts);
  const K: Panel = {
    area: { l: 445, t: 351, r: 584, b: 450.7 },
    x: { min: -3.356, max: Math.log10(50), ticks: igeX, labels: igeLabels },
    y: { min: -10.8, max: 100, ticks: Y100 },
    datasets: [...kPts, curve("cES fit", K_CES_CURVE, BLUE), curve("Control fit", K_CONTROL_CURVE, BLACK), curve("XT1+cES fit", K_XT1_CES_CURVE, "#2fc02f")],
    axes: { x: [igeX[0], igeX[igeX.length - 1]], y: [0, 100] },
    marks: kLeg.marks,
    texts: [label("(K)", 407, 333), forceTitle(411.7, 396), { t: "Anti-IgE (µg/mL)", x: 515, y: 471.7 }, ...kLeg.texts],
  };

  return [A, B, C, D, E, F, G, HP, I, J, K];
}

// ===================== COMPONENTS =====================
function PanelCanvas({ panel }: { panel: Panel }) {
  const ref = useRef<HTMLCanvasElement>(null);
  useEffect(() => {
    if (!ref.current) return;
    const chart = new Chart(ref.current, buildConfig(panel));
    return () => chart.destroy();
  }, [panel]);
  return <canvas ref={ref} width={W} height={H} style={{ position: "absolute", left: 0, top: 0, width: W, height: H, pointerEvents: "none" }} />;
}

const PANELS = buildPanels();

export default function App() {
  return (
    <div style={{ position: "absolute", left: 0, top: 0, width: W, height: H, background: "#ffffff", overflow: "hidden" }}>
      {PANELS.map((p, i) => (
        <PanelCanvas key={i} panel={p} />
      ))}
    </div>
  );
}
